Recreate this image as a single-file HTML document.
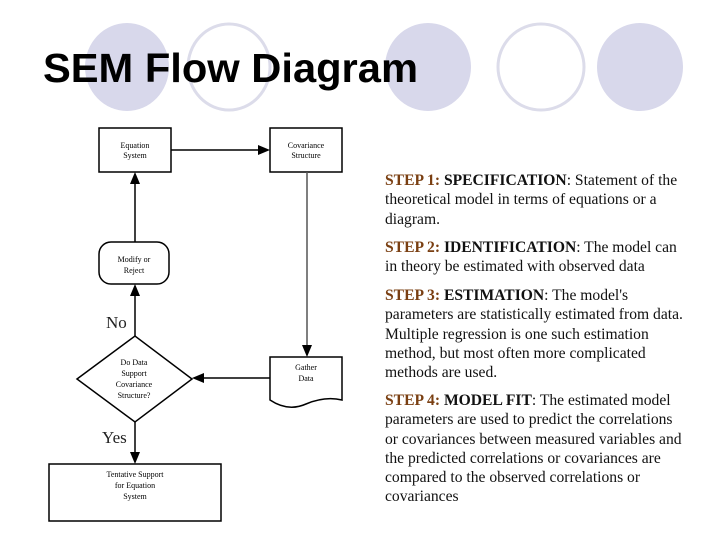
<!DOCTYPE html>
<html><head><meta charset="utf-8"><style>
html,body{margin:0;padding:0;background:#fff}
body{width:720px;height:540px;position:relative;overflow:hidden}
.t{position:absolute;left:385px;font-family:"Liberation Serif",serif;font-size:15.6px;color:#111;line-height:19.3px;white-space:nowrap}
.s{color:#7a3f12;font-weight:bold}
</style></head><body>
<svg width="720" height="540" style="position:absolute;left:0;top:0" font-family="Liberation Serif, serif">
<ellipse cx="127" cy="67" rx="42" ry="44" fill="#d8d8eb"/>
<ellipse cx="229" cy="67" rx="41" ry="43" fill="none" stroke="#dcdcea" stroke-width="3"/>
<ellipse cx="428" cy="67" rx="43" ry="44" fill="#d8d8eb"/>
<ellipse cx="541" cy="67" rx="43" ry="43" fill="none" stroke="#dcdcea" stroke-width="3"/>
<ellipse cx="640" cy="67" rx="43" ry="44" fill="#d8d8eb"/>
<text x="43" y="82" font-family="Liberation Sans, sans-serif" font-weight="bold" font-size="37" fill="#000" textLength="375" lengthAdjust="spacingAndGlyphs" transform="translate(0,82) scale(1,1.1) translate(0,-82)">SEM Flow Diagram</text>
<g stroke="#000" stroke-width="1.5" fill="#fff">
<rect x="99" y="128" width="72" height="44"/>
<rect x="270" y="128" width="72" height="44"/>
<rect x="99" y="242" width="70" height="42" rx="12"/>
<polygon points="77,379 135,336 192,379 135,422"/>
<path d="M270 357 H342 V400 Q325 396 306 404 Q288 412 270 400 Z"/>
<rect x="49" y="464" width="172" height="57"/>
</g>
<g stroke="#000" stroke-width="1.5" fill="none">
<line x1="171" y1="150" x2="262" y2="150"/>
<line x1="307" y1="172" x2="307" y2="349" stroke="#555"/>
<line x1="270" y1="378" x2="200" y2="378"/>
<line x1="135" y1="336" x2="135" y2="292"/>
<line x1="135" y1="242" x2="135" y2="180"/>
<line x1="135" y1="422" x2="135" y2="456"/>
</g>
<g fill="#000">
<polygon points="270,150 258,145 258,155"/>
<polygon points="307,357 302,345 312,345"/>
<polygon points="192,378 204,373 204,383"/>
<polygon points="135,284 130,296 140,296"/>
<polygon points="135,172 130,184 140,184"/>
<polygon points="135,464 130,452 140,452"/>
</g>
<g font-size="8" text-anchor="middle" fill="#000">
<text x="135" y="148">Equation</text><text x="135" y="158">System</text>
<text x="306" y="148">Covariance</text><text x="306" y="158">Structure</text>
<text x="134" y="262">Modify or</text><text x="134" y="273">Reject</text>
<text x="134" y="365">Do Data</text><text x="134" y="376">Support</text><text x="134" y="387">Covariance</text><text x="134" y="398">Structure?</text>
<text x="306" y="370">Gather</text><text x="306" y="381">Data</text>
<text x="135" y="477">Tentative Support</text><text x="135" y="488">for Equation</text><text x="135" y="499">System</text>
</g>
<text x="106" y="328" font-size="17" fill="#222">No</text>
<text x="102" y="443" font-size="17" fill="#222">Yes</text>
</svg>
<div class="t" style="top:171px"><span class="s">STEP 1:</span> <b>SPECIFICATION</b>: Statement of the<br>theoretical model in terms of equations or a<br>diagram.</div>
<div class="t" style="top:238px"><span class="s">STEP 2:</span> <b>IDENTIFICATION</b>: The model can<br>in theory be estimated with observed data</div>
<div class="t" style="top:286px"><span class="s">STEP 3:</span> <b>ESTIMATION</b>: The model's<br>parameters are statistically estimated from data.<br>Multiple regression is one such estimation<br>method, but most often more complicated<br>methods are used.</div>
<div class="t" style="top:391px"><span class="s">STEP 4:</span> <b>MODEL FIT</b>: The estimated model<br>parameters are used to predict the correlations<br>or covariances between measured variables and<br>the predicted correlations or covariances are<br>compared to the observed correlations or<br>covariances</div>
</body></html>
